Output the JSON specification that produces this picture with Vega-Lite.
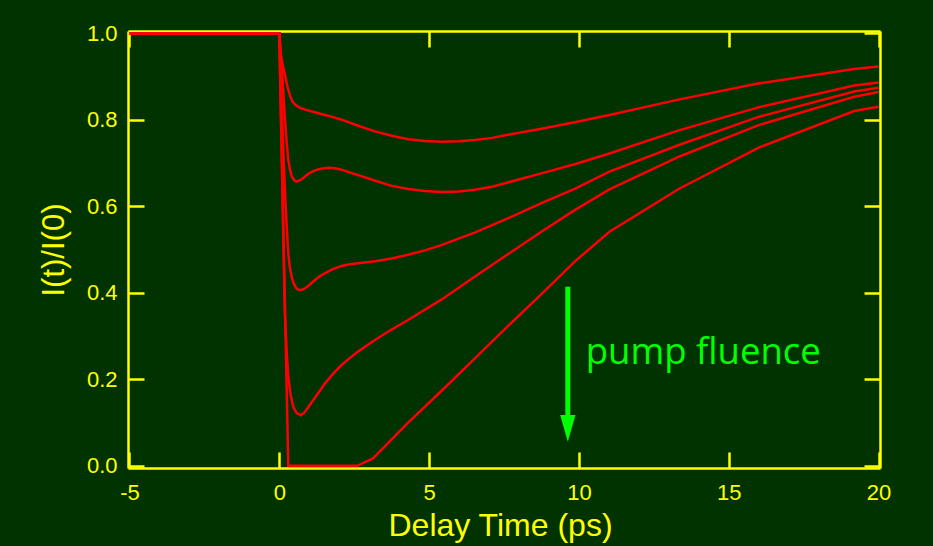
{
  "$schema": "https://vega.github.io/schema/vega-lite/v6.json",
  "width": 752,
  "height": 437,
  "autosize": "none",
  "padding": {"left": 128, "top": 31, "right": 53, "bottom": 78},
  "background": "#003300",
  "config": {
    "view": {"stroke": null},
    "font": "Liberation Sans"
  },
  "datasets": {
    "curves": [
      {"curve": 1, "t": -5, "v": 1.0}, {"curve": 1, "t": 0, "v": 1.0}, {"curve": 1, "t": 0.03, "v": 0.972},
      {"curve": 1, "t": 0.06, "v": 0.948}, {"curve": 1, "t": 0.12, "v": 0.925}, {"curve": 1, "t": 0.19, "v": 0.903},
      {"curve": 1, "t": 0.27, "v": 0.877}, {"curve": 1, "t": 0.36, "v": 0.855}, {"curve": 1, "t": 0.44, "v": 0.842},
      {"curve": 1, "t": 0.52, "v": 0.835}, {"curve": 1, "t": 0.7, "v": 0.827}, {"curve": 1, "t": 0.97, "v": 0.821},
      {"curve": 1, "t": 1.25, "v": 0.816}, {"curve": 1, "t": 1.52, "v": 0.811}, {"curve": 1, "t": 1.8, "v": 0.806},
      {"curve": 1, "t": 2.08, "v": 0.8}, {"curve": 1, "t": 2.63, "v": 0.786}, {"curve": 1, "t": 3.19, "v": 0.773},
      {"curve": 1, "t": 3.75, "v": 0.763}, {"curve": 1, "t": 4.3, "v": 0.755}, {"curve": 1, "t": 4.86, "v": 0.751},
      {"curve": 1, "t": 5.41, "v": 0.749}, {"curve": 1, "t": 6.0, "v": 0.75}, {"curve": 1, "t": 6.52, "v": 0.753},
      {"curve": 1, "t": 7.1, "v": 0.758}, {"curve": 1, "t": 7.63, "v": 0.765}, {"curve": 1, "t": 8.75, "v": 0.779},
      {"curve": 1, "t": 9.86, "v": 0.794}, {"curve": 1, "t": 11.02, "v": 0.811}, {"curve": 1, "t": 13.36, "v": 0.847},
      {"curve": 1, "t": 16.02, "v": 0.884}, {"curve": 1, "t": 19.19, "v": 0.917}, {"curve": 1, "t": 20, "v": 0.923},

      {"curve": 2, "t": -5, "v": 1.0}, {"curve": 2, "t": 0, "v": 1.0}, {"curve": 2, "t": 0.05, "v": 0.95},
      {"curve": 2, "t": 0.1, "v": 0.9}, {"curve": 2, "t": 0.15, "v": 0.845}, {"curve": 2, "t": 0.19, "v": 0.8},
      {"curve": 2, "t": 0.25, "v": 0.745}, {"curve": 2, "t": 0.3, "v": 0.707}, {"curve": 2, "t": 0.36, "v": 0.684},
      {"curve": 2, "t": 0.42, "v": 0.668}, {"curve": 2, "t": 0.5, "v": 0.66}, {"curve": 2, "t": 0.58, "v": 0.657},
      {"curve": 2, "t": 0.68, "v": 0.66}, {"curve": 2, "t": 0.8, "v": 0.665}, {"curve": 2, "t": 0.9, "v": 0.671},
      {"curve": 2, "t": 1.02, "v": 0.677}, {"curve": 2, "t": 1.2, "v": 0.683}, {"curve": 2, "t": 1.35, "v": 0.686},
      {"curve": 2, "t": 1.5, "v": 0.688}, {"curve": 2, "t": 1.69, "v": 0.689}, {"curve": 2, "t": 1.9, "v": 0.687},
      {"curve": 2, "t": 2.1, "v": 0.684}, {"curve": 2, "t": 2.35, "v": 0.678}, {"curve": 2, "t": 2.63, "v": 0.672},
      {"curve": 2, "t": 3.2, "v": 0.659}, {"curve": 2, "t": 3.75, "v": 0.647}, {"curve": 2, "t": 4.3, "v": 0.64},
      {"curve": 2, "t": 4.86, "v": 0.635}, {"curve": 2, "t": 5.41, "v": 0.633}, {"curve": 2, "t": 6.0, "v": 0.634},
      {"curve": 2, "t": 6.52, "v": 0.638}, {"curve": 2, "t": 7.1, "v": 0.645}, {"curve": 2, "t": 7.63, "v": 0.655},
      {"curve": 2, "t": 8.75, "v": 0.676}, {"curve": 2, "t": 9.86, "v": 0.697}, {"curve": 2, "t": 11.02, "v": 0.722},
      {"curve": 2, "t": 13.36, "v": 0.776}, {"curve": 2, "t": 16.02, "v": 0.829}, {"curve": 2, "t": 19.19, "v": 0.879},
      {"curve": 2, "t": 20, "v": 0.886},

      {"curve": 3, "t": -5, "v": 1.0}, {"curve": 3, "t": 0, "v": 1.0}, {"curve": 3, "t": 0.05, "v": 0.9},
      {"curve": 3, "t": 0.1, "v": 0.8}, {"curve": 3, "t": 0.15, "v": 0.7}, {"curve": 3, "t": 0.2, "v": 0.62},
      {"curve": 3, "t": 0.25, "v": 0.55}, {"curve": 3, "t": 0.3, "v": 0.491}, {"curve": 3, "t": 0.35, "v": 0.46},
      {"curve": 3, "t": 0.41, "v": 0.437}, {"curve": 3, "t": 0.48, "v": 0.422}, {"curve": 3, "t": 0.55, "v": 0.412},
      {"curve": 3, "t": 0.62, "v": 0.408}, {"curve": 3, "t": 0.7, "v": 0.406}, {"curve": 3, "t": 0.8, "v": 0.408},
      {"curve": 3, "t": 0.9, "v": 0.412}, {"curve": 3, "t": 1.05, "v": 0.421}, {"curve": 3, "t": 1.2, "v": 0.43},
      {"curve": 3, "t": 1.35, "v": 0.438}, {"curve": 3, "t": 1.52, "v": 0.445}, {"curve": 3, "t": 1.8, "v": 0.455},
      {"curve": 3, "t": 2.08, "v": 0.462}, {"curve": 3, "t": 2.35, "v": 0.466}, {"curve": 3, "t": 2.63, "v": 0.468},
      {"curve": 3, "t": 3.2, "v": 0.473}, {"curve": 3, "t": 3.75, "v": 0.479}, {"curve": 3, "t": 4.3, "v": 0.488},
      {"curve": 3, "t": 4.86, "v": 0.498}, {"curve": 3, "t": 5.41, "v": 0.51}, {"curve": 3, "t": 6.52, "v": 0.539},
      {"curve": 3, "t": 7.63, "v": 0.572}, {"curve": 3, "t": 8.75, "v": 0.607}, {"curve": 3, "t": 9.86, "v": 0.64},
      {"curve": 3, "t": 11.02, "v": 0.68}, {"curve": 3, "t": 13.36, "v": 0.742}, {"curve": 3, "t": 16.02, "v": 0.807},
      {"curve": 3, "t": 19.19, "v": 0.865}, {"curve": 3, "t": 20, "v": 0.874},

      {"curve": 4, "t": -5, "v": 1.0}, {"curve": 4, "t": 0, "v": 1.0}, {"curve": 4, "t": 0.05, "v": 0.82},
      {"curve": 4, "t": 0.1, "v": 0.65}, {"curve": 4, "t": 0.15, "v": 0.47}, {"curve": 4, "t": 0.19, "v": 0.345},
      {"curve": 4, "t": 0.25, "v": 0.26}, {"curve": 4, "t": 0.3, "v": 0.206}, {"curve": 4, "t": 0.38, "v": 0.163},
      {"curve": 4, "t": 0.47, "v": 0.136}, {"curve": 4, "t": 0.58, "v": 0.122}, {"curve": 4, "t": 0.72, "v": 0.117},
      {"curve": 4, "t": 0.85, "v": 0.124}, {"curve": 4, "t": 0.97, "v": 0.136}, {"curve": 4, "t": 1.25, "v": 0.163},
      {"curve": 4, "t": 1.52, "v": 0.19}, {"curve": 4, "t": 1.8, "v": 0.213}, {"curve": 4, "t": 2.08, "v": 0.233},
      {"curve": 4, "t": 2.35, "v": 0.249}, {"curve": 4, "t": 2.63, "v": 0.264}, {"curve": 4, "t": 3.19, "v": 0.291},
      {"curve": 4, "t": 3.75, "v": 0.315}, {"curve": 4, "t": 4.3, "v": 0.337}, {"curve": 4, "t": 5.41, "v": 0.384},
      {"curve": 4, "t": 6.52, "v": 0.437}, {"curve": 4, "t": 7.63, "v": 0.489}, {"curve": 4, "t": 8.75, "v": 0.541},
      {"curve": 4, "t": 9.86, "v": 0.591}, {"curve": 4, "t": 11.02, "v": 0.639}, {"curve": 4, "t": 13.36, "v": 0.715},
      {"curve": 4, "t": 16.02, "v": 0.788}, {"curve": 4, "t": 19.19, "v": 0.853}, {"curve": 4, "t": 20, "v": 0.864},

      {"curve": 5, "t": -5, "v": 1.0}, {"curve": 5, "t": 0, "v": 1.0}, {"curve": 5, "t": 0.3, "v": 0.0},
      {"curve": 5, "t": 2.6, "v": 0.0}, {"curve": 5, "t": 3.13, "v": 0.017}, {"curve": 5, "t": 4.3, "v": 0.1},
      {"curve": 5, "t": 5.41, "v": 0.173}, {"curve": 5, "t": 6.52, "v": 0.248}, {"curve": 5, "t": 7.63, "v": 0.323},
      {"curve": 5, "t": 8.75, "v": 0.397}, {"curve": 5, "t": 9.86, "v": 0.472}, {"curve": 5, "t": 11.02, "v": 0.541},
      {"curve": 5, "t": 13.36, "v": 0.641}, {"curve": 5, "t": 16.02, "v": 0.736}, {"curve": 5, "t": 19.19, "v": 0.82},
      {"curve": 5, "t": 20, "v": 0.83}
    ],
    "arrow": [{"t": 9.63, "top": 0.414, "bottom": 0.11}],
    "arrowhead": [{"t": 9.63, "v": 0.0865}],
    "note": [{"t": 10.23, "v": 0.235, "text": "pump fluence"}]
  },
  "resolve": {"axis": {"x": "independent", "y": "independent"}},
  "layer": [
    {
      "data": {"name": "curves"},
      "mark": {"type": "line", "color": "#ff0000", "strokeWidth": 2.5, "interpolate": "linear", "clip": true},
      "encoding": {
        "x": {
          "field": "t", "type": "quantitative",
          "scale": {"domain": [-5.05, 20.05], "nice": false, "zero": false},
          "axis": {
            "orient": "bottom", "values": [-5, 0, 5, 10, 15, 20], "labelExpr": "'' + datum.value",
            "grid": false, "tickSize": -16, "tickWidth": 2.5, "tickColor": "#ffff00",
            "domainColor": "#ffff00", "domainWidth": 2.5,
            "labelColor": "#ffff00", "labelFont": "Liberation Sans", "labelFontSize": 22, "labelPadding": 30, "labelFlush": false,
            "title": "Delay Time (ps)", "titleColor": "#ffff00", "titleFont": "Liberation Sans", "titleFontSize": 32,
            "titleFontWeight": "normal", "titlePadding": 7, "titleX": 372
          }
        },
        "y": {
          "field": "v", "type": "quantitative",
          "scale": {"domain": [-0.005, 1.005], "nice": false, "zero": false},
          "axis": {
            "orient": "left", "values": [0, 0.2, 0.4, 0.6, 0.8, 1.0], "format": ".1f",
            "grid": false, "tickSize": -16, "tickWidth": 2.5, "tickColor": "#ffff00",
            "domainColor": "#ffff00", "domainWidth": 2.5,
            "labelColor": "#ffff00", "labelFont": "Liberation Sans", "labelFontSize": 22, "labelPadding": 27, "labelFlush": false,
            "title": "I(t)/I(0)", "titleColor": "#ffff00", "titleFont": "Liberation Sans", "titleFontSize": 31,
            "titleFontWeight": "normal", "titlePadding": 16
          }
        },
        "detail": {"field": "curve", "type": "nominal"}
      }
    },
    {
      "data": {"name": "arrow"},
      "mark": {"type": "rule", "color": "#00ff00", "strokeWidth": 5},
      "encoding": {
        "x": {
          "field": "t", "type": "quantitative",
          "axis": {
            "orient": "top", "values": [-5, 0, 5, 10, 15, 20], "labels": false, "title": null,
            "grid": false, "tickSize": -16, "tickWidth": 2.5, "tickColor": "#ffff00",
            "domainColor": "#ffff00", "domainWidth": 2.5
          }
        },
        "y": {
          "field": "top", "type": "quantitative",
          "axis": {
            "orient": "right", "values": [0, 0.2, 0.4, 0.6, 0.8, 1.0], "labels": false, "title": null,
            "grid": false, "tickSize": -16, "tickWidth": 2.5, "tickColor": "#ffff00",
            "domainColor": "#ffff00", "domainWidth": 2.5
          }
        },
        "y2": {"field": "bottom"}
      }
    },
    {
      "data": {"name": "arrowhead"},
      "mark": {"type": "point", "shape": "M-0.573,-1L0.573,-1L0,1Z", "filled": true, "color": "#00ff00", "opacity": 1, "size": 713},
      "encoding": {
        "x": {"field": "t", "type": "quantitative", "axis": null},
        "y": {"field": "v", "type": "quantitative", "axis": null}
      }
    },
    {
      "data": {"name": "note"},
      "mark": {"type": "text", "color": "#00ff00", "font": "Open Sans", "fontSize": 36.5, "align": "left", "baseline": "alphabetic"},
      "encoding": {
        "x": {"field": "t", "type": "quantitative", "axis": null},
        "y": {"field": "v", "type": "quantitative", "axis": null},
        "text": {"field": "text"}
      }
    }
  ]
}
